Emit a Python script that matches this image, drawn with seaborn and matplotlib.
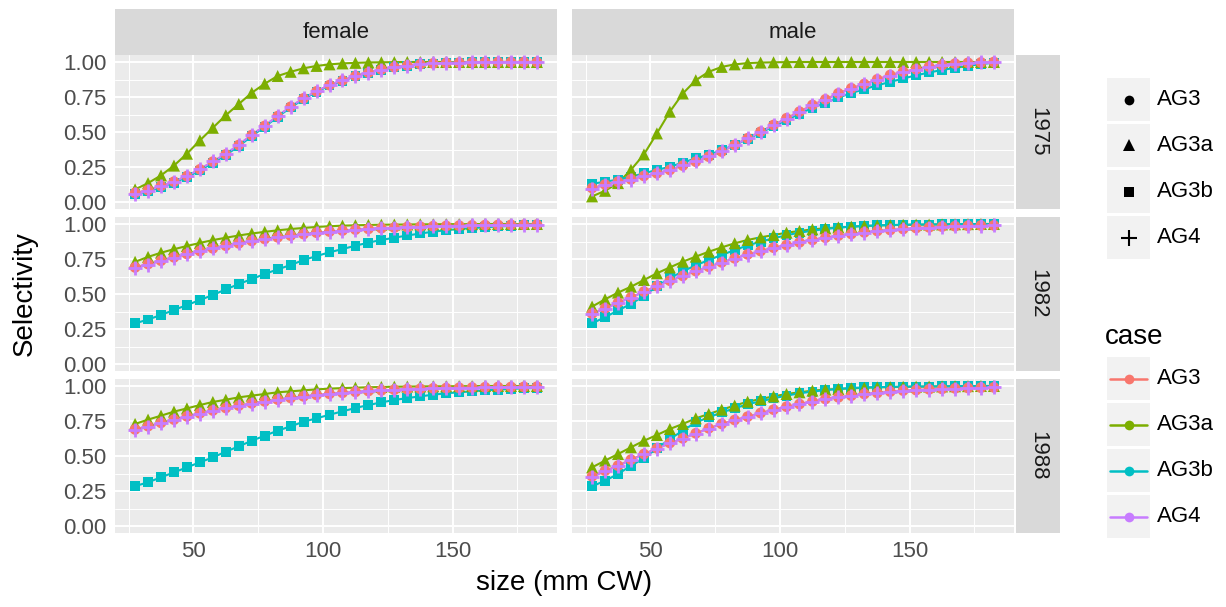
import matplotlib
matplotlib.use("Agg")
import matplotlib.pyplot as plt
import seaborn as sns
import pandas as pd

# ---------------- data ----------------
size_mm = [27.5, 32.5, 37.5, 42.5, 47.5, 52.5, 57.5, 62.5, 67.5, 72.5, 77.5,
           82.5, 87.5, 92.5, 97.5, 102.5, 107.5, 112.5, 117.5, 122.5, 127.5,
           132.5, 137.5, 142.5, 147.5, 152.5, 157.5, 162.5, 167.5, 172.5,
           177.5, 182.5]
sexes = ["female", "male"]
years = ["1975", "1982", "1988"]
cases = ["AG3", "AG3a", "AG3b", "AG4"]
x_ticks = [50, 100, 150]
y_ticks = [0.0, 0.25, 0.5, 0.75, 1.0]
y_tick_labels = ["0.00", "0.25", "0.50", "0.75", "1.00"]

# female 1975
f1975_AG3 = [0.065, 0.085, 0.115, 0.145, 0.185, 0.233, 0.288, 0.34, 0.407, 0.478, 0.543,
             0.613, 0.68, 0.74, 0.79, 0.835, 0.868, 0.9, 0.924, 0.946, 0.963, 0.975,
             0.984, 0.99, 0.994, 0.996, 0.998, 0.999, 1.0, 1.0, 1.0, 1.0]
f1975_AG3a = [0.09, 0.135, 0.19, 0.26, 0.345, 0.44, 0.53, 0.62, 0.70, 0.78, 0.845,
              0.90, 0.93, 0.955, 0.972, 0.983, 0.99, 0.994, 0.997, 0.998, 0.999, 1.0,
              1.0, 1.0, 1.0, 1.0, 1.0, 1.0, 1.0, 1.0, 1.0, 1.0]
f1975_AG3b = [0.055, 0.075, 0.105, 0.138, 0.178, 0.225, 0.28, 0.335, 0.40, 0.47, 0.538,
              0.608, 0.675, 0.735, 0.787, 0.832, 0.866, 0.898, 0.923, 0.945, 0.962, 0.974,
              0.983, 0.989, 0.993, 0.996, 0.998, 0.999, 1.0, 1.0, 1.0, 1.0]
f1975_AG4 = [0.06, 0.082, 0.112, 0.145, 0.186, 0.235, 0.29, 0.345, 0.41, 0.48, 0.545,
             0.615, 0.682, 0.742, 0.792, 0.836, 0.869, 0.9, 0.925, 0.946, 0.963, 0.975,
             0.984, 0.99, 0.994, 0.996, 0.998, 0.999, 1.0, 1.0, 1.0, 1.0]
# male 1975
m1975_AG3 = [0.10, 0.125, 0.145, 0.162, 0.186, 0.205, 0.229, 0.26, 0.288, 0.324, 0.36,
             0.407, 0.455, 0.502, 0.55, 0.598, 0.645, 0.693, 0.733, 0.776, 0.812, 0.843,
             0.876, 0.907, 0.931, 0.948, 0.967, 0.978, 0.988, 0.994, 0.997, 1.0]
m1975_AG3a = [0.04, 0.08, 0.135, 0.23, 0.34, 0.49, 0.645, 0.775, 0.87, 0.93, 0.965,
              0.983, 0.992, 0.996, 0.998, 0.999, 1.0, 1.0, 1.0, 1.0, 1.0, 1.0,
              1.0, 1.0, 1.0, 1.0, 1.0, 1.0, 1.0, 1.0, 1.0, 1.0]
m1975_AG3b = [0.13, 0.145, 0.16, 0.18, 0.205, 0.229, 0.252, 0.281, 0.312, 0.336, 0.371,
              0.407, 0.45, 0.495, 0.54, 0.585, 0.63, 0.672, 0.71, 0.746, 0.778, 0.806,
              0.833, 0.858, 0.882, 0.905, 0.925, 0.943, 0.958, 0.972, 0.985, 0.995]
m1975_AG4 = [0.095, 0.12, 0.142, 0.16, 0.184, 0.205, 0.23, 0.262, 0.29, 0.326, 0.362,
             0.408, 0.455, 0.5, 0.548, 0.595, 0.642, 0.69, 0.73, 0.772, 0.808, 0.84,
             0.872, 0.903, 0.928, 0.946, 0.965, 0.977, 0.987, 0.993, 0.997, 1.0]
# female 1982
f1982_AG3 = [0.69, 0.714, 0.738, 0.762, 0.786, 0.807, 0.826, 0.845, 0.862, 0.879, 0.893,
             0.905, 0.917, 0.928, 0.938, 0.946, 0.953, 0.96, 0.965, 0.97, 0.974, 0.978,
             0.981, 0.984, 0.986, 0.988, 0.99, 0.992, 0.993, 0.994, 0.995, 0.996]
f1982_AG3a = [0.73, 0.765, 0.795, 0.82, 0.843, 0.865, 0.885, 0.902, 0.918, 0.932, 0.944,
              0.955, 0.964, 0.972, 0.979, 0.984, 0.988, 0.991, 0.993, 0.995, 0.996, 0.997,
              0.998, 0.998, 0.999, 0.999, 0.999, 1.0, 1.0, 1.0, 1.0, 1.0]
f1982_AG3b = [0.29, 0.318, 0.35, 0.386, 0.421, 0.457, 0.493, 0.533, 0.571, 0.607, 0.643,
              0.676, 0.707, 0.743, 0.771, 0.798, 0.821, 0.845, 0.867, 0.886, 0.902, 0.918,
              0.932, 0.945, 0.956, 0.964, 0.971, 0.977, 0.982, 0.986, 0.99, 0.993]
f1982_AG4 = [0.685, 0.71, 0.735, 0.76, 0.784, 0.806, 0.826, 0.845, 0.862, 0.878, 0.892,
             0.905, 0.917, 0.928, 0.938, 0.946, 0.953, 0.96, 0.965, 0.97, 0.974, 0.978,
             0.981, 0.984, 0.986, 0.988, 0.99, 0.992, 0.993, 0.994, 0.995, 0.996]
# male 1982
m1982_AG3 = [0.36, 0.398, 0.438, 0.476, 0.517, 0.557, 0.595, 0.629, 0.664, 0.695, 0.726,
             0.755, 0.783, 0.807, 0.831, 0.85, 0.869, 0.886, 0.902, 0.917, 0.929, 0.94,
             0.95, 0.957, 0.964, 0.971, 0.976, 0.981, 0.984, 0.987, 0.989, 0.99]
m1982_AG3a = [0.41, 0.462, 0.51, 0.552, 0.6, 0.648, 0.69, 0.731, 0.767, 0.802, 0.833,
              0.862, 0.886, 0.905, 0.921, 0.938, 0.95, 0.962, 0.969, 0.976, 0.981, 0.986,
              0.989, 0.992, 0.994, 0.995, 0.996, 0.997, 0.998, 0.999, 1.0, 1.0]
m1982_AG3b = [0.29, 0.335, 0.382, 0.43, 0.485, 0.555, 0.612, 0.662, 0.705, 0.743, 0.779,
              0.814, 0.847, 0.874, 0.898, 0.92, 0.938, 0.952, 0.964, 0.974, 0.981, 0.986,
              0.99, 0.993, 0.995, 0.996, 0.997, 0.998, 0.999, 1.0, 1.0, 1.0]
m1982_AG4 = [0.355, 0.395, 0.435, 0.474, 0.515, 0.555, 0.593, 0.628, 0.662, 0.694, 0.724,
             0.753, 0.781, 0.805, 0.829, 0.849, 0.868, 0.885, 0.901, 0.916, 0.928, 0.939,
             0.949, 0.957, 0.964, 0.97, 0.975, 0.98, 0.983, 0.986, 0.988, 0.99]
# female 1988
f1988_AG3 = [0.69, 0.713, 0.737, 0.76, 0.783, 0.805, 0.825, 0.843, 0.86, 0.876, 0.89,
             0.903, 0.915, 0.926, 0.936, 0.944, 0.951, 0.958, 0.964, 0.969, 0.973, 0.977,
             0.98, 0.983, 0.985, 0.987, 0.989, 0.991, 0.992, 0.993, 0.994, 0.995]
f1988_AG3a = [0.729, 0.76, 0.788, 0.817, 0.84, 0.864, 0.886, 0.902, 0.919, 0.931, 0.943,
              0.955, 0.962, 0.969, 0.976, 0.981, 0.985, 0.988, 0.991, 0.993, 0.995, 0.996,
              0.997, 0.998, 0.998, 0.999, 0.999, 1.0, 1.0, 1.0, 1.0, 1.0]
f1988_AG3b = [0.285, 0.312, 0.348, 0.383, 0.419, 0.455, 0.49, 0.531, 0.569, 0.609, 0.645,
              0.681, 0.712, 0.745, 0.769, 0.795, 0.819, 0.843, 0.864, 0.883, 0.9, 0.914,
              0.926, 0.938, 0.948, 0.955, 0.962, 0.969, 0.974, 0.979, 0.983, 0.986]
f1988_AG4 = [0.685, 0.709, 0.734, 0.758, 0.781, 0.803, 0.823, 0.842, 0.859, 0.875, 0.889,
             0.902, 0.914, 0.925, 0.935, 0.943, 0.951, 0.958, 0.964, 0.969, 0.973, 0.977,
             0.98, 0.983, 0.985, 0.987, 0.989, 0.991, 0.992, 0.993, 0.994, 0.995]
# male 1988
m1988_AG3 = [0.355, 0.395, 0.431, 0.474, 0.514, 0.555, 0.593, 0.626, 0.662, 0.698, 0.729,
             0.757, 0.781, 0.807, 0.831, 0.852, 0.871, 0.89, 0.907, 0.919, 0.931, 0.943,
             0.95, 0.96, 0.967, 0.971, 0.976, 0.979, 0.983, 0.986, 0.988, 0.99]
m1988_AG3a = [0.419, 0.467, 0.514, 0.562, 0.609, 0.65, 0.693, 0.729, 0.769, 0.8, 0.831,
              0.86, 0.888, 0.907, 0.926, 0.943, 0.955, 0.967, 0.974, 0.979, 0.983, 0.987,
              0.99, 0.992, 0.994, 0.995, 0.996, 0.997, 0.998, 0.999, 1.0, 1.0]
m1988_AG3b = [0.283, 0.324, 0.371, 0.431, 0.483, 0.555, 0.621, 0.681, 0.74, 0.776, 0.812,
              0.84, 0.871, 0.89, 0.912, 0.931, 0.948, 0.96, 0.971, 0.979, 0.986, 0.99,
              0.992, 0.994, 0.995, 0.996, 0.997, 0.998, 0.999, 1.0, 1.0, 1.0]
m1988_AG4 = [0.35, 0.39, 0.428, 0.47, 0.511, 0.552, 0.59, 0.624, 0.66, 0.695, 0.727,
             0.755, 0.779, 0.805, 0.829, 0.85, 0.869, 0.888, 0.905, 0.918, 0.93, 0.942,
             0.949, 0.959, 0.966, 0.97, 0.975, 0.978, 0.982, 0.985, 0.987, 0.99]

series = {
    ("female", "1975"): [f1975_AG3, f1975_AG3a, f1975_AG3b, f1975_AG4],
    ("male", "1975"): [m1975_AG3, m1975_AG3a, m1975_AG3b, m1975_AG4],
    ("female", "1982"): [f1982_AG3, f1982_AG3a, f1982_AG3b, f1982_AG4],
    ("male", "1982"): [m1982_AG3, m1982_AG3a, m1982_AG3b, m1982_AG4],
    ("female", "1988"): [f1988_AG3, f1988_AG3a, f1988_AG3b, f1988_AG4],
    ("male", "1988"): [m1988_AG3, m1988_AG3a, m1988_AG3b, m1988_AG4],
}

rows = []
for (sex, year), vals in series.items():
    for case, ys in zip(cases, vals):
        for xv, yv in zip(size_mm, ys):
            rows.append({"sex": sex, "year": year, "case": case, "size": xv, "sel": yv})
df = pd.DataFrame(rows)

# ---------------- style ----------------
colors = {"AG3": "#F8766D", "AG3a": "#7CAE00", "AG3b": "#00BFC4", "AG4": "#C77CFF"}
markers = {"AG3": "o", "AG3a": "^", "AG3b": "s", "AG4": "+"}
msize = {"AG3": 60, "AG3a": 75, "AG3b": 50, "AG4": 95}
point_order = ["AG3b", "AG3a", "AG3", "AG4"]

sns.set_style("white")
plt.rcParams["font.family"] = ["Liberation Sans", "DejaVu Sans"]

W, H = 1226, 607
fig = plt.figure(figsize=(W / 100, H / 100), dpi=100)


def box(x0, top, w, h):
    return [x0 / W, 1 - (top + h) / H, w / W, h / H]


col_x = [115, 572]
pw = 442
row_top = [55, 217, 379]
ph = 154

for i, year in enumerate(years):
    for j, sex in enumerate(sexes):
        ax = fig.add_axes(box(col_x[j], row_top[i], pw, ph))
        ax.set_facecolor("#EBEBEB")
        for sp in ax.spines.values():
            sp.set_visible(False)
        sub = df[(df["sex"] == sex) & (df["year"] == year)]
        sns.lineplot(data=sub, x="size", y="sel", hue="case", hue_order=cases,
                     palette=colors, linewidth=1.5, legend=False, ax=ax,
                     errorbar=None, zorder=2)
        for c in point_order:
            d = sub[sub["case"] == c]
            if markers[c] == "+":
                sns.scatterplot(data=d, x="size", y="sel", color=colors[c],
                                marker="+", s=msize[c], linewidth=2.0,
                                legend=False, ax=ax, zorder=3)
            else:
                sns.scatterplot(data=d, x="size", y="sel", color=colors[c],
                                marker=markers[c], s=msize[c], linewidth=0,
                                edgecolor="none", legend=False, ax=ax, zorder=3)
        ax.set_xlim(19.75, 190.25)
        ax.set_ylim(-0.05, 1.05)
        ax.set_xticks(x_ticks)
        ax.set_xticks([25, 75, 125, 175], minor=True)
        ax.set_yticks(y_ticks)
        ax.set_yticks([0.125, 0.375, 0.625, 0.875], minor=True)
        ax.grid(which="major", color="white", linewidth=1.4)
        ax.grid(which="minor", color="white", linewidth=0.7)
        ax.set_axisbelow(True)
        ax.set_xlabel("")
        ax.set_ylabel("")
        ax.tick_params(which="minor", length=0)
        ax.tick_params(which="major", length=4, width=1.1, color="#333333",
                       labelcolor="#4D4D4D", labelsize=16, pad=2)
        if j == 0:
            ax.set_yticklabels(y_tick_labels)
        else:
            ax.tick_params(axis="y", length=0, labelleft=False)
        if i == 2:
            ax.set_xticklabels([str(v) for v in x_ticks])
        else:
            ax.tick_params(axis="x", length=0, labelbottom=False)

# strips
for j, sex in enumerate(sexes):
    sa = fig.add_axes(box(col_x[j], 9, pw, 46))
    sa.set_facecolor("#D9D9D9")
    sa.set_xticks([]); sa.set_yticks([])
    for sp in sa.spines.values():
        sp.set_visible(False)
    sa.text(0.5, 0.5, sex, ha="center", va="center", fontsize=16,
            color="#1A1A1A", transform=sa.transAxes)
for i, year in enumerate(years):
    sa = fig.add_axes(box(1016, row_top[i], 44, ph))
    sa.set_facecolor("#D9D9D9")
    sa.set_xticks([]); sa.set_yticks([])
    for sp in sa.spines.values():
        sp.set_visible(False)
    sa.text(0.5, 0.5, year, ha="center", va="center", fontsize=16, rotation=-90,
            color="#1A1A1A", transform=sa.transAxes)

# axis titles
fig.text(25 / W, 1 - 294 / H, "Selectivity", rotation=90, ha="center",
         va="center", fontsize=20, color="black")
fig.text(564 / W, 1 - 583 / H, "size (mm CW)", ha="center", va="center",
         fontsize=20, color="black")

# shape legend
shape_tops = [78, 124, 170, 216]
for c, t in zip(cases, shape_tops):
    ka = fig.add_axes(box(1107, t, 43, 43))
    ka.set_facecolor("#F2F2F2")
    ka.set_xticks([]); ka.set_yticks([])
    for sp in ka.spines.values():
        sp.set_visible(False)
    ka.set_xlim(0, 1); ka.set_ylim(0, 1)
    ms = {"o": 7, "^": 8, "s": 6.5, "+": 11}[markers[c]]
    ka.plot([0.5], [0.5], marker=markers[c], color="black", markersize=ms,
            markeredgewidth=1.5 if markers[c] == "+" else 0, linestyle="none")
    fig.text(1157 / W, 1 - (t + 21.5) / H, c, ha="left", va="center",
             fontsize=16, color="black")

# colour legend
fig.text(1105 / W, 1 - 337 / H, "case", ha="left", va="center", fontsize=20,
         color="black")
case_tops = [357, 403, 449, 495]
for c, t in zip(cases, case_tops):
    ka = fig.add_axes(box(1107, t, 43, 43))
    ka.set_facecolor("#F2F2F2")
    ka.set_xticks([]); ka.set_yticks([])
    for sp in ka.spines.values():
        sp.set_visible(False)
    ka.set_xlim(0, 1); ka.set_ylim(0, 1)
    ka.plot([0.07, 0.93], [0.5, 0.5], color=colors[c], linewidth=1.8)
    ka.plot([0.5], [0.5], marker="o", color=colors[c], markersize=7,
            markeredgewidth=0)
    fig.text(1157 / W, 1 - (t + 21.5) / H, c, ha="left", va="center",
             fontsize=16, color="black")

fig.savefig("out.png", dpi=100, facecolor="white")
